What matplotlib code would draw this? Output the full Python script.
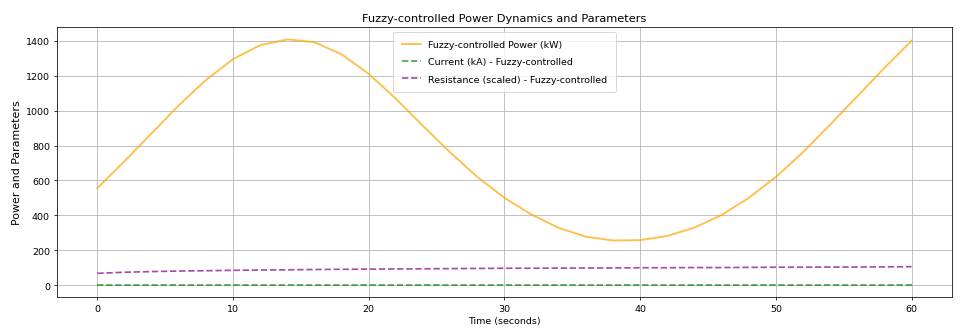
import matplotlib.pyplot as plt
import numpy as np

# values
time_s = [0, 2, 4, 6, 8, 10, 12, 14, 16, 18, 20, 22, 24, 26, 28, 30,
          32, 34, 36, 38, 40, 42, 44, 46, 48, 50, 52, 54, 56, 58, 60]
power_kw = [556, 710, 870, 1030, 1175, 1295, 1375, 1408, 1392, 1322, 1210,
            1068, 912, 760, 620, 500, 404, 328, 278, 256, 258, 282, 330,
            402, 500, 620, 762, 920, 1082, 1245, 1400]
current_ka = [3, 3, 3, 3, 3, 3, 3, 3, 3, 3, 3, 3, 3, 3, 3, 3,
              3, 3, 3, 3, 3, 3, 3, 3, 3, 3, 3, 3, 3, 3, 3]
resistance_scaled = [68, 74, 78, 81, 83, 85, 87, 88, 90, 91, 92, 93, 94, 95,
                     96, 97, 97, 98, 98, 99, 100, 100, 101, 101, 102, 103,
                     103, 104, 104, 105, 106]

fig, ax = plt.subplots(figsize=(14, 4.87), dpi=960 / 14)

ax.plot(time_s, power_kw, color="orange", alpha=0.7, lw=2,
        label="Fuzzy-controlled Power (kW)")
ax.plot(time_s, current_ka, "--", color="green", alpha=0.7, lw=1.8,
        label="Current (kA) - Fuzzy-controlled")
ax.plot(time_s, resistance_scaled, "--", color="purple", alpha=0.7, lw=1.8,
        label="Resistance (scaled) - Fuzzy-controlled")

ax.set_title("Fuzzy-controlled Power Dynamics and Parameters")
ax.set_xlabel("Time (seconds)")
ax.set_ylabel("Power and Parameters", fontsize=11.5)
ax.legend(loc="upper center", labelspacing=0.85, borderpad=0.9)
ax.grid(True)

fig.subplots_adjust(left=0.059, right=0.992, top=0.916, bottom=0.108)
fig.savefig("out.png")
